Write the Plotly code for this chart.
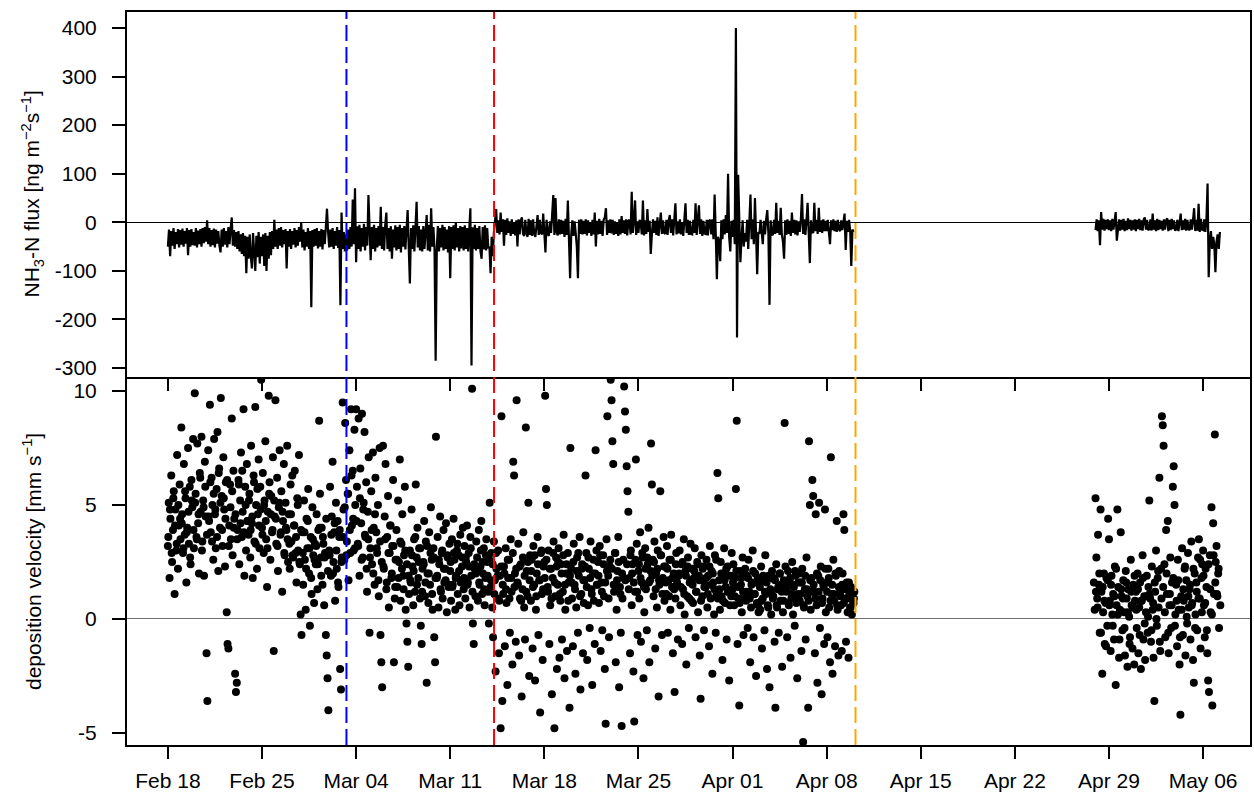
import pandas as pd
import plotly.graph_objects as go

# ---------------- data ----------------
tick_dates = ["2019-02-18", "2019-02-25", "2019-03-04", "2019-03-11", "2019-03-18", "2019-03-25",
              "2019-04-01", "2019-04-08", "2019-04-15", "2019-04-22", "2019-04-29", "2019-05-06"]
tick_labels = ["Feb 18", "Feb 25", "Mar 04", "Mar 11", "Mar 18", "Mar 25",
               "Apr 01", "Apr 08", "Apr 15", "Apr 22", "Apr 29", "May 06"]
flux_ticks = [-300, -200, -100, 0, 100, 200, 300, 400]
flux_tick_labels = ["-300", "-200", "-100", "0", "100", "200", "300", "400"]
vd_ticks = [-5, 0, 5, 10]
vd_tick_labels = ["-5", "0", "5", "10"]

event_times = ["2019-03-03 06:45", "2019-03-14 06:15", "2019-04-10 03:30"]
event_colors = ["#0000FF", "#FF0000", "#FFA500"]

# NH3-N flux [ng m-2 s-1], 2-hourly
flux_start_1 = "2019-02-18 00:00"
flux_1 = [
    -50, -15, -70, -18, -48, -12, -55, -20, -45, -14, -52, -16,
    -46, -13, -50, -18, -44, -12, -68, -16, -50, -14, -47, -20,
    -48, -12, -52, -17, -45, -14, -50, -12, -43, -10, -40, 4,
    -45, -12, -50, -16, -47, -13, -52, -15, -44, -18, -48, -62,
    -15, -50, -12, -46, -18, -52, -10, -45, -14, 10, -48, -16,
    -50, -20, -55, -18, -60, -25, -65, -22, -70, -28, -105, -30,
    -75, -25, -70, -95, -22, -80, -100, -28, -72, -20, -85, -30,
    -70, -25, -90, -22, -100, -28, -75, -20, -68, -18, -55, 5,
    -50, -15, -55, -12, -48, -10, -52, -16, -45, -14, -95, -18,
    -50, -14, -55, -18, -46, -12, -52, -16, -48, -10, -40, 0,
    -52, -15, -58, -20, -50, -12, -55, -18, -175, -16, -50, -14,
    -48, -12, -54, -18, -50, -14, -56, -16, -45, -10, 28, -20,
    -52, -15, -50, -12, -55, -18, -48, -10, -53, -16, -171, 20,
    -55, -20, -60, -25, -58, -15, -55, -10, -50, 47, -45, 70,
    -82, -8, -55, -5, -60, -12, -50, -3, -58, -10, -48, 56,
    -15, -78, -10, -55, -5, -60, -12, -52, -8, -48, 32, -55,
    -10, -58, -5, 20, -55, -12, -60, -8, -75, -15, -52, -6,
    -58, -10, -55, -5, -62, -12, -50, -8, -56, -3, 25, -54,
    -126, -12, -55, -6, -60, -10, 42, -52, -8, -58, -15, -60,
    -8, -55, -12, 15, -58, -5, -60, 29, -50, -10, -56, -285,
    -55, -8, -60, -12, -52, -5, -58, -10, -55, -15, -62, -8,
    -115, -10, -55, -6, -58, 0, -52, -12, -60, -8, -54, -10,
    -58, -6, -55, -12, -60, -8, 29, -295, -10, -55, -5, -58,
    -12, -55, -8, -60, -75, -10, -56, -6, -58, -12, -54, -50,
    -105, -30, -70, -20, 5, 27, -22, 4, -25, 20, -20, 6,
    -48, 5, -26, 8, -22, 2, -28, 6, -24, 0, -27, 4,
    -50, 6, -25, 3, 10, -24, -28, 5, -22, -30, 7, -26,
    4, -28, 6, -24, -30, 3, 15, -26, 5, -22, -25, 18,
    -25, -62, 5, -24, -28, 2, -22, 20, 56, -26, 50, -20,
    -27, 6, -25, 5, -24, 3, -30, 7, -26, 45, -40, -115,
    -26, 4, -28, 2, -22, -50, -115, 5, -24, 6, -25, 3,
    -24, 6, -27, 4, -22, 0, -28, 5, -25, 20, -50, 3,
    -25, 7, -24, 3, -28, 5, 10, 29, -26, 4, -22, 6,
    -23, 5, -26, 2, -24, 0, -28, 6, -25, 13, -22, 4,
    -24, 6, -27, 3, 5, -25, 63, -22, 4, 45, -26, 2,
    -22, 5, 0, -25, 45, -27, 4, -24, 27, -20, 3, -65,
    -25, 6, -22, 3, -26, 10, -28, 5, 20, -24, 4, -22,
    -24, 5, -26, 3, 15, -22, 6, -27, 4, 39, -25, 2,
    -23, 6, -25, 0, -28, 4, 39, -22, 5, -26, 3, -24,
    -25, 5, -22, 39, -26, 4, 35, -24, 6, -28, 3, -23,
    -24, 5, -27, 3, 5, -25, 6, -35, 57, -22, -117, -30,
    -40, -80, 4, -35, 6, -25, 15, -22, 100, -30, -60, 3,
    -30, 5, -45, 400, -237, 98, -20, -82, -35, 4, -50, -22,
    -40, 5, -55, 3, 57, -35, 6, -45, 50, -25, -107, -20,
    -24, 5, -28, -45, 3, -25, 6, 25, -22, -170, 4, -26,
    -25, 5, -24, 40, -22, 3, -26, 30, -25, -40, -75, 4,
    -26, 6, -24, 3, -28, 20, -22, 5, -25, 4, -27, 2,
    -20, 5, 58, -24, 6, -26, 3, 40, -22, -84, 4, -20,
    -22, 40, -18, 5, -24, 30, -20, 4, -22, 6, -18, 3,
    -18, 5, -20, -45, 4, -16, 6, -18, 3, -20, 5, -15,
    -18, 4, -16, 6, 18, -57, 3, -20, 5, -18, -90, -15,
    -20,
]
flux_start_2 = "2019-04-28 00:00"
flux_2 = [
    -16, 6, -18, 4, -47, 21, -15, 7, -17, 5, -14, 6,
    -16, 4, -18, 7, -15, 3, 21, -38, -14, 6, -17, 5,
    -15, 7, -18, 3, -16, 8, -14, 5, -17, 4, -15, 6,
    -18, 5, -14, 7, -16, 4, -17, 6, 10, -15, 5, -16,
    -14, 6, -17, 18, -15, 4, -18, 7, -16, 5, -14, 3,
    -17, 6, -15, 4, 8, -18, 5, -16, 7, -14, 4, -17,
    -15, 5, -18, 6, 18, -16, 4, -15, 7, -17, 5, -14,
    -16, 6, -15, 4, 29, -18, 5, -17, 38, -20, 7, -15,
    -16, 6, -20, 5, 80, -113, -40, -18, -55, -30, -45, -103,
    -40, -25, -55, -20,
]

# deposition velocity [mm s-1]: 90-minute values from 00:00 ...
vd_start_1 = "2019-02-18 00:00"
vd_1 = [
    3.2, 5.1, 1.8, 4.4, 6.3, 2.5, 3.9, 5.6, 1.1, 4.8, 3.0, 7.2, 2.2, 4.1, 5.9, 3.5,
    8.4, 4.6, 2.9, 6.8, 3.7, 5.3, 1.6, 4.0, 7.5, 3.3, 5.8, 2.4, 6.1, 4.9, 7.9, 3.1,
    9.9, 5.5, 3.6, 7.7, 4.2, 2.0, 6.4, 4.7, 8.0, 3.4, 5.2, 1.9, 6.9, 4.5, -1.5, -3.6,
    7.4, 4.3, 9.4, 3.8, 6.2, 5.0, 2.6, 7.9, 4.6, 3.1, 5.7, 8.2, 2.1, 6.6, 4.0, 9.7,
    5.4, 3.2, 7.1, 4.8, 2.3, 6.0, 0.3, -1.1, -1.3, 4.1, 5.9, 3.5, 8.8, 2.8, 6.5, 4.4,
    -2.4, -3.2, -2.8, 3.9, 6.1, 2.4, 5.2, 7.3, 3.6, 4.7, 9.2, 1.9, 5.8, 3.0, 6.8, 4.3,
    3.7, 5.5, 2.7, 7.6, 4.2, 1.8, 6.3, 3.4, 9.3, 5.0, 2.2, 4.6, 7.0, 3.1, 5.8, 10.5,
    4.0, 6.4, 2.9, 5.2, 7.8, 3.5, 1.4, 4.7, 9.8, 6.0, 2.6, 5.4, 3.8, 7.1, -1.4, 4.5,
    9.6, 3.3, 6.2, 2.1, 4.9, 7.4, 3.7, 5.6, 1.2, 4.3, 6.8, 2.8, 5.1, 3.9, 7.6, 2.5,
    4.6, 2.2, 5.9, 3.4, 6.3, 2.7, 4.1, 6.5, 2.9, 1.6, 5.3, 3.0, 7.2, 2.4, 0.2, -0.7,
    3.8, 1.5, 5.2, 2.6, 0.4, 4.4, 3.1, 5.7, 2.0, -0.3, 3.6, 1.1, 4.9, 2.8, 0.7, 3.3,
    2.4, 4.6, 1.3, 3.9, 8.7, 5.5, 2.7, 4.0, 1.5, 3.3, 0.6, 2.9, -0.7, -1.6, -2.6, -4.0,
    3.0, 5.8, 1.9, 4.5, 6.9, 2.5, 3.8, 0.8, 5.1, 2.2, 4.3, 1.4, 3.6, -2.2, -3.1, 2.7,
    9.5, 4.8, 2.6, 8.6, 6.1, 3.4, 5.5, 1.7, 7.4, 2.9, 9.2, 4.1, 6.5, 3.0, 8.3, 5.0,
    9.2, 5.8, 3.3, 8.8, 1.9, 6.6, 4.2, 9.0, 2.7, 5.1, 8.2, 3.6, 6.0, 1.2, 4.7, 7.1,
    -0.6, 3.1, 5.6, 2.4, 7.3, 4.0, 1.5, 6.2, 3.8, 2.9, 5.0, 1.0, 7.5, -0.7, -1.9, -3.0,
    7.6, 2.2, 4.5, 6.8, 1.3, 3.6, 5.4, 0.5, 2.9, 4.1, 1.8, 3.2, 6.1, -1.9, 0.9, 2.6,
    3.9, 1.4, 5.2, 2.5, 7.0, 0.8, 3.3, 4.6, 1.9, 2.8, 5.8, 0.4, -0.2, -1.0, -2.1, 1.1,
    3.0, 1.6, 4.8, 2.3, 0.6, 3.5, 1.2, 5.9, 2.7, 4.0, 1.8, 3.1, 0.9, -0.3, -1.1, 2.2,
    2.5, 4.3, 1.0, 3.4, -2.8, 2.0, 0.7, 3.8, 1.5, 4.9, 2.6, 0.4, 3.1, -0.8, -1.9, 8.0,
    1.8, 3.6, 0.5, 2.4, 4.5, 1.2, 2.9, 0.9, 3.9, 1.6, 2.2, 4.2, 0.3, 2.7, 1.4, 3.3,
    2.1, 0.8, 3.5, 1.5, 4.4, 2.6, 0.4, 1.9, 3.0, 1.1, 2.8, 0.6, 3.7, 1.7, 2.3, 4.0,
    1.3, 3.2, 0.9, 2.5, 4.1, 1.6, 2.9, 0.5, 3.6, 1.9, 10.1, -0.2, -1.1, 2.2, 1.0, 3.4,
    2.7, 0.8, 3.9, 1.5, 2.3, 4.3, 1.1, 2.0, 3.1, 0.6, 1.8, 3.5, 2.5, 1.2, -0.2, 5.1,
    1.4, 2.9, 0.5, -0.8, 3.4, 1.7, -2.3, 2.2, 0.9, 3.0, -1.5, 1.9, -4.8, 8.9, -3.6, 1.1,
    2.3, -1.2, 3.1, 0.7, -2.9, 1.8, 2.6, -0.6, 3.5, 1.2, -2.0, 6.9, 6.3, 2.0, -1.0, 9.6,
    1.6, 3.3, -1.6, 0.9, 2.4, -3.4, 1.3, 3.8, 0.5, -0.9, 8.4, 2.1, 1.0, 5.1, -2.5, 2.8,
    0.8, 2.6, -1.3, 3.2, 1.5, -2.7, 0.4, 2.0, 3.6, -0.7, 1.7, -4.1, 2.9, 1.1, -1.8, 2.3,
    2.5, 9.8, 5.7, 5.0, 1.4, 3.0, -1.1, 0.6, 2.2, -3.3, 1.8, 3.4, -4.8, 1.0, 2.7, -2.2,
    1.5, 3.1, -1.7, 0.8, 2.4, -0.9, 1.2, 3.7, -2.6, 0.4, 2.0, -1.4, 2.9, 1.6, -3.9, 7.5,
    2.2, 0.9, -1.2, 3.3, 1.5, -2.4, 0.5, 2.7, -0.6, 1.9, 3.6, -3.1, 1.1, 2.4, -1.5, 0.7,
    1.7, 6.3, 2.9, -1.8, 0.6, 2.2, -0.4, 3.4, 1.3, -2.9, 2.0, 0.8, -1.1, 7.4, 3.0, 1.5,
    2.5, 0.7, 3.2, -1.4, 1.6, -0.5, 2.8, 1.0, -2.2, -4.6, 3.5, 8.9, 1.9, -0.8, 2.3, 10.5,
    9.6, 7.8, 6.8, 1.2, 2.9, -1.9, 0.4, 2.1, 3.6, -3.0, 1.4, -0.6, -4.7, 0.9, 2.6, 10.2,
    9.1, 8.3, 6.7, 5.6, 4.7, 1.8, -1.5, 3.0, 0.6, 2.4, -2.3, -4.5, 1.2, 7.0, 3.3, -0.7,
    2.1, 0.9, 3.8, -1.0, 1.6, 2.7, -2.6, 0.3, 3.1, 1.3, -0.5, 2.4, 4.0, -1.9, 1.7, 7.7,
    5.9, 2.6, 1.0, 3.4, -1.3, 2.0, 0.5, 3.0, -3.4, 1.5, 5.6, 2.8, -0.7, 1.8, 3.6, 0.8,
    2.3, 1.1, 3.2, -0.6, 1.7, 2.6, 0.4, 3.7, 1.4, -1.5, 2.0, -3.2, 0.9, 2.9, 1.6, -0.9,
    1.9, 3.0, 0.6, 2.4, -1.1, 1.3, 3.5, 0.2, 2.1, -2.0, 1.0, 2.7, -0.4, 1.6, 3.3, 0.8,
    2.2, 0.7, 1.8, 3.1, -0.8, 1.2, 2.5, 0.3, 1.9, -1.6, -3.5, 2.8, 1.0, 2.3, -0.5, 1.5,
    1.4, 2.6, 0.5, 1.9, -1.2, 3.2, 0.9, 2.1, -2.4, 1.6, 0.2, 2.8, -0.6, 1.1, 6.4, 5.3,
    1.7, 0.4, 2.5, 1.0, -1.8, 2.0, 3.1, 0.7, 1.4, -0.9, 2.3, 1.2, -2.7, 0.6, 1.9, 2.9,
    1.3, 2.4, 0.6, 1.8, 5.7, 8.7, -1.1, 0.9, -3.8, 2.1, 1.5, 0.3, 2.7, -0.7, 1.0, 2.2,
    0.8, 1.9, -0.4, 2.6, 1.2, -1.9, 0.5, 1.6, 3.0, -0.8, 1.1, 2.0, -2.5, 0.7, 1.8, 0.3,
    1.5, 0.4, 2.3, -1.3, 0.9, 1.7, -0.5, 2.8, 1.1, -2.2, 0.6, 1.9, -3.0, 1.3, 0.2, 2.1,
    0.9, 1.8, -1.0, -3.9, 2.4, 0.5, 1.3, -0.6, 2.0, 0.8, 1.5, -2.1, 0.3, 1.7, 8.6, 2.3,
    1.2, -0.8, 2.1, 0.6, 1.6, -1.7, 0.9, 2.5, 0.2, 1.4, -0.3, 1.9, 0.7, -2.6, 1.1, 2.0,
    0.8, 1.6, -1.4, 2.2, -5.4, 0.5, 1.3, -0.9, 2.7, 1.0, -3.9, 7.8, 5.0, 0.4, 1.8, 6.1,
    5.4, 1.2, -1.5, 4.6, 0.6, -2.8, 1.9, 5.1, -0.4, 2.3, -3.3, 0.9, 1.5, -1.1, 4.8, 0.3,
    1.6, -0.8, 2.2, 0.5, -1.9, 7.1, 1.1, -2.4, 2.6, 0.8, -1.2, 1.9, 4.3, 0.4, -1.6, 2.1,
    1.2, 0.6, -1.4, 2.0, 4.6, 3.9, 0.9, -1.0, 1.6, 0.3, -1.7, 1.1, 0.5, 1.4, 0.2, 0.8,
    0.7, 1.2,
]
# ... and 3-hourly values from 00:45
vd_start_1b = "2019-02-18 00:45"
vd_1b = [
    3.6, 4.8, 2.9, 5.3, 4.1, 3.3, 5.0, 4.4,
    4.2, 3.1, 5.6, 3.8, 4.7, 2.7, 5.2, 3.9,
    5.1, 3.5, 4.6, 6.2, 3.0, 4.9, 5.8, 3.7,
    4.5, 6.0, 3.4, 5.5, 4.8, 3.6, 6.4, 5.1,
    3.9, 5.3, 4.4, 6.1, 3.2, 4.9, 5.6, 4.0,
    4.6, 3.5, 5.9, 4.2, 6.5, 3.8, 5.0, 4.3,
    5.2, 3.9, 4.5, 6.0, 3.3, 5.7, 4.1, 4.8,
    3.7, 5.0, 4.3, 3.1, 5.5, 4.6, 3.9, 5.2,
    4.4, 3.2, 5.1, 3.8, 4.7, 2.9, 4.0, 3.5,
    3.3, 4.6, 2.8, 4.1, 3.6, 5.0, 2.5, 3.9,
    2.9, 3.8, 2.2, 4.3, 3.1, 1.8, 3.5, 2.6,
    3.2, 2.4, 4.0, 1.9, 3.6, 2.7, 4.4, 2.1,
    2.8, 3.7, 2.0, 4.2, 3.0, 1.6, 3.9, 2.5,
    3.6, 4.9, 2.8, 5.5, 3.9, 6.3, 4.4, 3.1,
    4.3, 3.2, 5.3, 2.6, 4.8, 3.7, 2.2, 3.5,
    2.7, 3.9, 2.0, 4.6, 3.1, 1.7, 3.4, 2.5,
    2.3, 3.5, 1.6, 2.9, 4.1, 2.0, 3.2, 1.4,
    2.6, 1.8, 3.4, 2.2, 1.3, 3.0, 2.4, 1.9,
    1.7, 2.8, 2.1, 3.6, 1.5, 2.5, 3.1, 1.2,
    2.4, 1.6, 3.2, 2.0, 2.9, 1.1, 2.7, 1.8,
    1.9, 2.6, 1.3, 3.0, 2.2, 1.7, 2.8, 1.5,
    2.5, 1.4, 2.9, 1.8, 3.3, 2.1, 1.6, 2.7,
    1.8, 2.7, 1.5, 2.3, 3.1, 1.2, 2.4, 2.0,
    2.2, 1.6, 3.0, 2.5, 1.3, 2.8, 1.9, 2.6,
    1.7, 2.4, 1.1, 2.9, 1.9, 0.8, 2.3, 1.5,
    2.0, 1.3, 2.6, 0.9, 1.8, 2.9, 1.4, 2.2,
    1.5, 2.3, 0.8, 2.7, 1.9, 1.2, 2.5, 1.7,
    2.1, 1.4, 2.8, 1.0, 2.4, 1.7, 3.0, 1.3,
    1.8, 2.6, 1.2, 2.2, 0.9, 2.9, 1.6, 2.3,
    2.5, 1.1, 2.0, 2.8, 1.5, 2.4, 0.8, 1.9,
    1.6, 2.5, 1.3, 2.1, 2.9, 1.0, 2.2, 1.7,
    2.3, 1.4, 2.7, 1.8, 1.1, 2.6, 2.0, 1.5,
    1.9, 2.8, 1.2, 2.4, 1.6, 2.1, 0.9, 2.6,
    2.2, 1.5, 2.9, 1.7, 2.5, 1.1, 2.0, 1.8,
    1.7, 2.4, 1.3, 2.8, 2.0, 1.6, 2.6, 1.2,
    2.4, 1.8, 2.9, 1.4, 2.2, 2.7, 1.6, 2.1,
    1.9, 2.5, 1.3, 2.2, 1.7, 2.8, 1.1, 2.3,
    1.6, 2.2, 1.0, 2.6, 1.8, 1.3, 2.4, 1.5,
    2.0, 1.4, 2.5, 1.1, 1.9, 2.3, 0.9, 1.7,
    1.5, 2.1, 1.2, 2.4, 1.7, 0.8, 2.2, 1.4,
    1.8, 1.1, 2.3, 1.5, 2.0, 1.3, 2.6, 0.9,
    1.3, 2.0, 0.8, 1.7, 2.2, 1.2, 1.9, 1.0,
    1.6, 1.0, 2.1, 1.4, 0.7, 1.8, 1.2, 2.0,
    1.2, 1.8, 0.9, 1.5, 2.1, 1.1, 1.6, 0.6,
    1.4, 0.8, 1.9, 1.2, 1.6, 0.5, 1.8, 1.1,
    1.0, 1.7, 0.6, 1.4, 2.0, 1.2, 0.8, 1.5,
    1.3, 0.7, 1.8, 1.1, 1.5, 2.1, 0.9, 1.6,
    1.1, 1.6, 0.6, 1.9, 1.3, 0.8, 1.7, 1.2,
    1.5, 0.9, 2.0, 1.2, 1.7, 0.7, 1.4, 2.2,
    1.2, 1.8, 0.8, 1.5, 1.1, 2.0, 0.6, 1.4,
    1.0, 1.5, 0.7, 1.3, 0.9, 1.6, 0.5, 1.1,
    0.9,
]
vd_start_2 = "2019-04-27 21:00"
vd_2 = [
    1.6, 0.4,
    5.3, 2.7, 0.9, 3.7, 1.5, -0.6, 4.8, 1.2, -2.4, 0.3, 2.0, -1.1, 0.7, 1.8, -0.3, 4.4,
    3.5, 0.8, -1.4, 1.9, 0.2, 1.1, -0.9, 2.3, -2.9, 0.6, 4.8, 1.4, -1.7, 0.4, 3.8, 1.0,
    -0.5, 1.7, 0.3, -1.6, 2.1, 0.9, -2.1, 1.3, 0.1, -0.8, 2.6, 0.6, -1.3, 1.5, -2.0, 0.8,
    1.2, -0.4, 2.0, -1.5, 0.5, 1.6, -2.2, 0.8, 2.8, -0.9, 1.0, -1.8, 0.3, 1.9, -0.6, 1.4,
    5.2, 0.9, -1.0, 2.3, 0.4, -1.7, -3.6, 1.2, 3.0, -0.3, 1.8, 0.5, 6.2, -1.4, 2.2, 8.9,
    8.5, 7.6, 2.4, -0.8, 3.9, 1.1, 4.3, -1.5, 0.6, 2.7, -0.4, 1.6, 5.8, 6.7, 5.0, 0.2,
    1.5, -1.2, 2.6, 0.4, -2.0, -4.2, 1.0, 3.1, -0.7, 0.8, 2.2, -1.6, 1.7, -0.2, 2.9, 0.5,
    1.3, -0.9, 3.4, 0.7, -1.8, -2.8, 2.0, 0.2, 1.6, -0.5, 2.7, 3.5, 0.9, -1.3, 1.8, 2.4,
    3.0, 0.6, -0.8, 2.2, 1.4, -1.5, -2.7, -3.2, 2.8, 0.3, 4.9, -3.8, 4.2, 1.1, 8.1, 2.5,
    3.2, 1.0, 2.0, -0.4,
]
vd_start_2b = "2019-04-28 00:45"
vd_2b = [
    1.2, 0.5, 2.0, -0.6, 1.4, 0.8, -1.2, 1.7,
    0.6, 1.5, -0.3, 1.0, 2.2, 0.2, -0.9, 1.3,
    0.9, -0.4, 1.6, 0.3, -1.1, 1.2, 0.5, 1.9,
    0.4, 1.3, -0.7, 0.8, 1.8, -0.2, 1.0, 0.1,
    1.1, -0.5, 0.7, 1.6, 0.0, 2.1, -1.0, 0.9,
    1.4, 0.3, 2.0, -0.6, 1.1, 0.6, 1.8, -0.3,
    0.8, 1.7, -0.8, 0.4, 1.3, 2.3, 0.1, 1.0,
    1.5, 0.6, 2.2, -0.4, 1.2, 0.9, 2.6, 0.3,
    1.9, 0.7, -0.5, 2.4, 1.3, 0.2, 2.8, 1.6,
    1.1, 2.2, 0.6,
]

# ---------------- figure ----------------
FONT = "Liberation Sans, Arial, sans-serif"

flux_series = [
    (pd.date_range(flux_start_1, periods=len(flux_1), freq="2h"), flux_1),
    (pd.date_range(flux_start_2, periods=len(flux_2), freq="2h"), flux_2),
]
vd_series = [
    (pd.date_range(vd_start_1, periods=len(vd_1), freq="90min"), vd_1),
    (pd.date_range(vd_start_1b, periods=len(vd_1b), freq="3h"), vd_1b),
    (pd.date_range(vd_start_2, periods=len(vd_2), freq="90min"), vd_2),
    (pd.date_range(vd_start_2b, periods=len(vd_2b), freq="3h"), vd_2b),
]

fig = go.Figure()
for tt, vv in flux_series:
    fig.add_trace(go.Scatter(x=tt, y=vv, mode="lines",
                             line=dict(color="black", width=2.2),
                             xaxis="x2", yaxis="y2", showlegend=False))
for tt, vv in vd_series:
    fig.add_trace(go.Scatter(x=tt, y=vv, mode="markers",
                             marker=dict(color="black", size=8, line=dict(width=0)),
                             xaxis="x", yaxis="y", showlegend=False))

x_range = ["2019-02-14 23:00", "2019-05-09 11:45"]
PH = 733.0
bottom_dom = [0, 366 / PH]
top_dom = [368 / PH, 1]

axis_common = dict(showline=True, linecolor="black", linewidth=2, mirror=True,
                   showgrid=False, ticks="outside", tickcolor="black", tickwidth=1.5,
                   tickfont=dict(family=FONT, size=21, color="black"))

fig.update_layout(
    width=1254, height=801,
    margin=dict(l=127, r=2, t=12, b=56),
    paper_bgcolor="white", plot_bgcolor="white",
    font=dict(family=FONT, size=21, color="black"),
    showlegend=False,
    xaxis=dict(domain=[0, 1], anchor="y", type="date", range=x_range,
               tickvals=tick_dates, ticktext=tick_labels, ticklen=12,
               ticklabelstandoff=4, zeroline=False, **axis_common),
    xaxis2=dict(domain=[0, 1], anchor="y2", type="date", range=x_range, matches="x",
                tickvals=tick_dates, ticktext=tick_labels, ticklen=12,
                showticklabels=False, zeroline=False, **axis_common),
    yaxis=dict(domain=bottom_dom, anchor="x", range=[-5.53, 10.53],
               tickvals=vd_ticks, ticktext=vd_tick_labels, ticklen=13, ticklabelstandoff=11,
               zeroline=True, zerolinecolor="#707070", zerolinewidth=1.3, **axis_common),
    yaxis2=dict(domain=top_dom, anchor="x2", range=[-318.5, 432.9],
                tickvals=flux_ticks, ticktext=flux_tick_labels, ticklen=13,
                ticklabelstandoff=11, zeroline=True, zerolinecolor="black",
                zerolinewidth=1, **axis_common),
)

for t, c in zip(event_times, event_colors):
    fig.add_shape(type="line", xref="x", yref="paper", x0=t, x1=t, y0=0, y1=1,
                  line=dict(color=c, width=2, dash="16px,6px"), layer="above")

fig.add_annotation(xref="paper", yref="paper", x=0, y=(top_dom[0] + 1) / 2, xshift=-95,
                   text="NH<sub>3</sub>-N flux [ng m<sup>−2</sup>s<sup>−1</sup>]",
                   textangle=-90, showarrow=False, xanchor="center", yanchor="middle",
                   font=dict(family=FONT, size=21, color="black"))
fig.add_annotation(xref="paper", yref="paper", x=0, y=bottom_dom[1] / 2, xshift=-95,
                   text="deposition velocity [mm s<sup>−1</sup>]",
                   textangle=-90, showarrow=False, xanchor="center", yanchor="middle",
                   font=dict(family=FONT, size=21, color="black"))

fig.write_html("out.html", config={"displayModeBar": False},
               post_script="document.body.style.margin='0';")
